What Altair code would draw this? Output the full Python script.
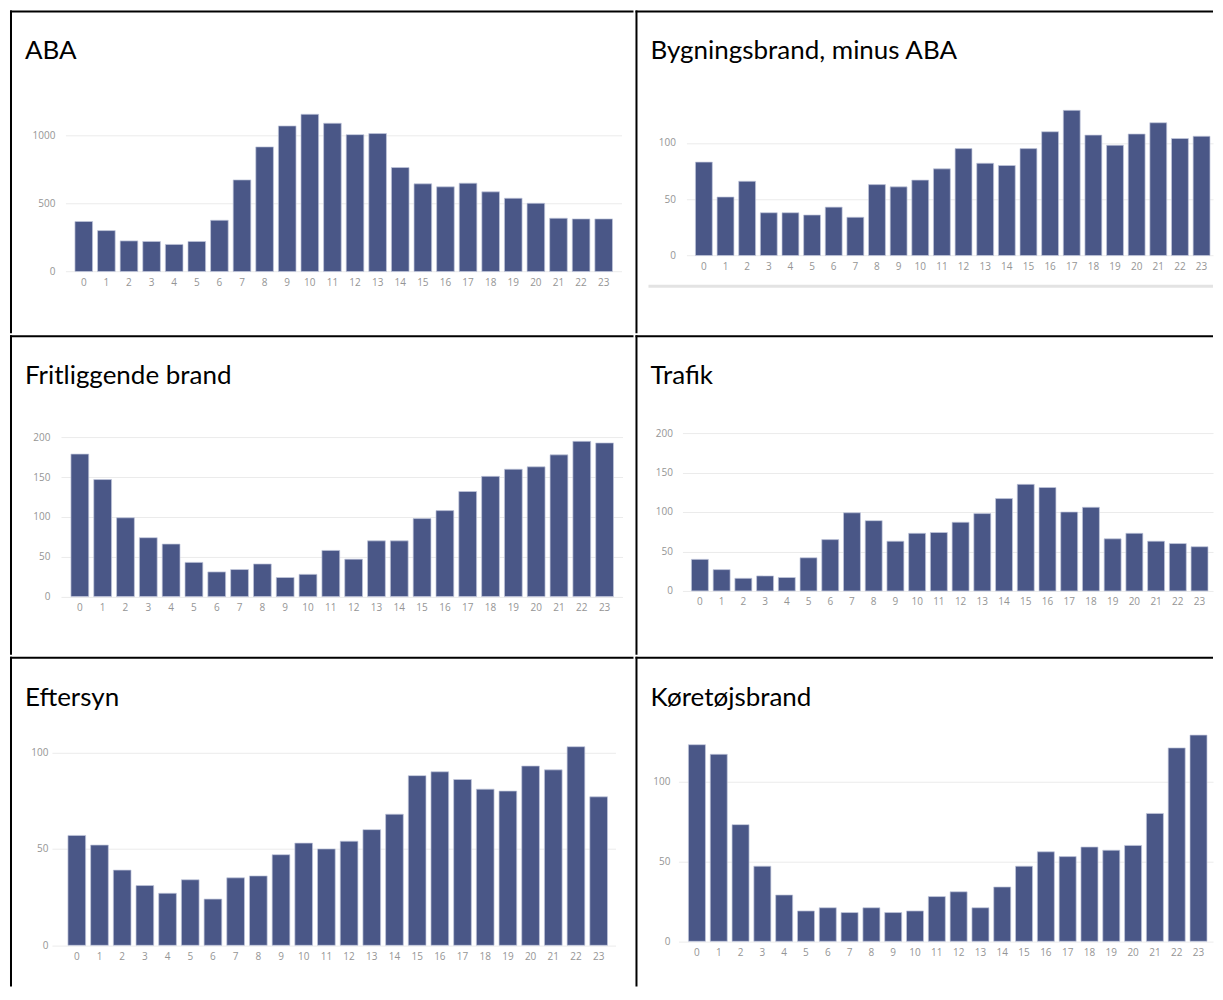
import altair as alt
import pandas as pd

hours = list(range(24))

aba = [368, 301, 225, 221, 199, 221, 377, 674, 917, 1071, 1157, 1091,
       1007, 1015, 765, 645, 623, 650, 586, 539, 502, 392, 387, 387]
bygning = [83, 52, 66, 38, 38, 36, 43, 34, 63, 61, 67, 77,
           95, 82, 80, 95, 110, 129, 107, 98, 108, 118, 104, 106]
fritliggende = [179, 147, 99, 74, 66, 43, 31, 34, 41, 24, 28, 58,
                47, 70, 70, 98, 108, 132, 151, 160, 163, 178, 195, 193]
trafik = [40, 27, 16, 19, 17, 42, 65, 99, 89, 63, 73, 74,
          87, 98, 117, 135, 131, 100, 106, 66, 73, 63, 60, 56]
eftersyn = [57, 52, 39, 31, 27, 34, 24, 35, 36, 47, 53, 50,
            54, 60, 68, 88, 90, 86, 81, 80, 93, 91, 103, 77]
koretoj = [123, 117, 73, 47, 29, 19, 21, 18, 21, 18, 19, 28,
           31, 21, 34, 47, 56, 53, 59, 57, 60, 80, 121, 129]

titles = ["ABA", "Bygningsbrand, minus ABA", "Fritliggende brand",
          "Trafik", "Eftersyn", "Køretøjsbrand"]
ticks_aba = [0, 500, 1000]
ticks_100 = [0, 50, 100]
ticks_200 = [0, 50, 100, 150, 200]

BAR = "#4a5787"
LABEL = "#959595"
GRID = "#ebebeb"
W1, W2 = 624, 578
H1, H2, H3 = 323, 320, 330


def panel(title, values, ticks, W, H, bar_l, bar_r, grid_l, grid_r,
          y0, ytop, label_right, extra=False):
    df = pd.DataFrame({"hour": hours, "value": values})
    n = len(hours)
    pi = 0.22
    step = (bar_r - bar_l) / (n - pi)
    le = bar_l - grid_l
    re = grid_r - bar_r
    po = (le + re) / (2 * step)
    align = le / (le + re)
    x = alt.X(
        "hour:O", title=None,
        scale=alt.Scale(range=[grid_l, grid_r], paddingInner=pi,
                        paddingOuter=po, align=align),
        axis=alt.Axis(labelAngle=0, ticks=False, tickSize=0, domain=False,
                      grid=False, offset=-(H - y0), labelPadding=6),
    )
    y = alt.Y(
        "value:Q", title=None,
        scale=alt.Scale(domain=[0, ticks[-1]], range=[y0, ytop], nice=False),
        axis=alt.Axis(values=ticks, format="d", ticks=False, tickSize=0,
                      domain=False, offset=-grid_l,
                      labelPadding=grid_l - label_right,
                      labelFlush=False, grid=True),
    )
    bars = alt.Chart(df).mark_bar(
        color=BAR, stroke="#c3c8dd", strokeWidth=0.7
    ).encode(x=x, y=y)
    one = pd.DataFrame({"t": [title]})
    txt = alt.Chart(one).mark_text(
        align="left", baseline="alphabetic", font="Lato", fontSize=26,
        color="black"
    ).encode(text="t:N", x=alt.value(15), y=alt.value(49))
    top = alt.Chart(one).mark_rule(color="black", strokeWidth=2).encode(
        x=alt.value(0), x2=alt.value(W), y=alt.value(1))
    left = alt.Chart(one).mark_rule(color="black", strokeWidth=2).encode(
        x=alt.value(1), y=alt.value(0), y2=alt.value(H))
    layers = [bars, txt, top, left]
    if extra:
        layers.append(alt.Chart(one).mark_rule(color="#e3e3e3", strokeWidth=3).encode(
            x=alt.value(13), x2=alt.value(W), y=alt.value(276)))
    return alt.layer(*layers).properties(width=W, height=H)


p1 = panel(titles[0], aba, ticks_aba, W1, H1, 65, 603, 55.5, 612,
           261.3, 125.3, 45)
p2 = panel(titles[1], bygning, ticks_100, W2, H1, 60, 575, 51, 578,
           245.3, 132.7, 40, extra=True)
p3 = panel(titles[2], fritliggende, ticks_200, W1, H2, 61, 604, 51, 613,
           261.7, 102.3, 40)
p4 = panel(titles[3], trafik, ticks_200, W2, H2, 56, 573, 47, 578,
           256, 98, 37)
p5 = panel(titles[4], eftersyn, ticks_100, W1, H3, 58, 598, 42, 606,
           288.7, 95.7, 38)
p6 = panel(titles[5], koretoj, ticks_100, W2, H3, 53, 572, 43, 578,
           284.7, 124.7, 34.5)

row1 = alt.hconcat(p1, p2, spacing=0)
row2 = alt.hconcat(p3, p4, spacing=0)
row3 = alt.hconcat(p5, p6, spacing=0)

chart = alt.vconcat(row1, row2, row3, spacing=0).properties(
    padding={"left": 1, "top": 1, "right": 0, "bottom": 0}
).configure_view(strokeWidth=0).configure_axis(
    labelFont="Open Sans", labelFontSize=10, labelColor=LABEL, gridColor=GRID
)

chart.save("out.html", embed_options={"renderer": "svg", "actions": False})
